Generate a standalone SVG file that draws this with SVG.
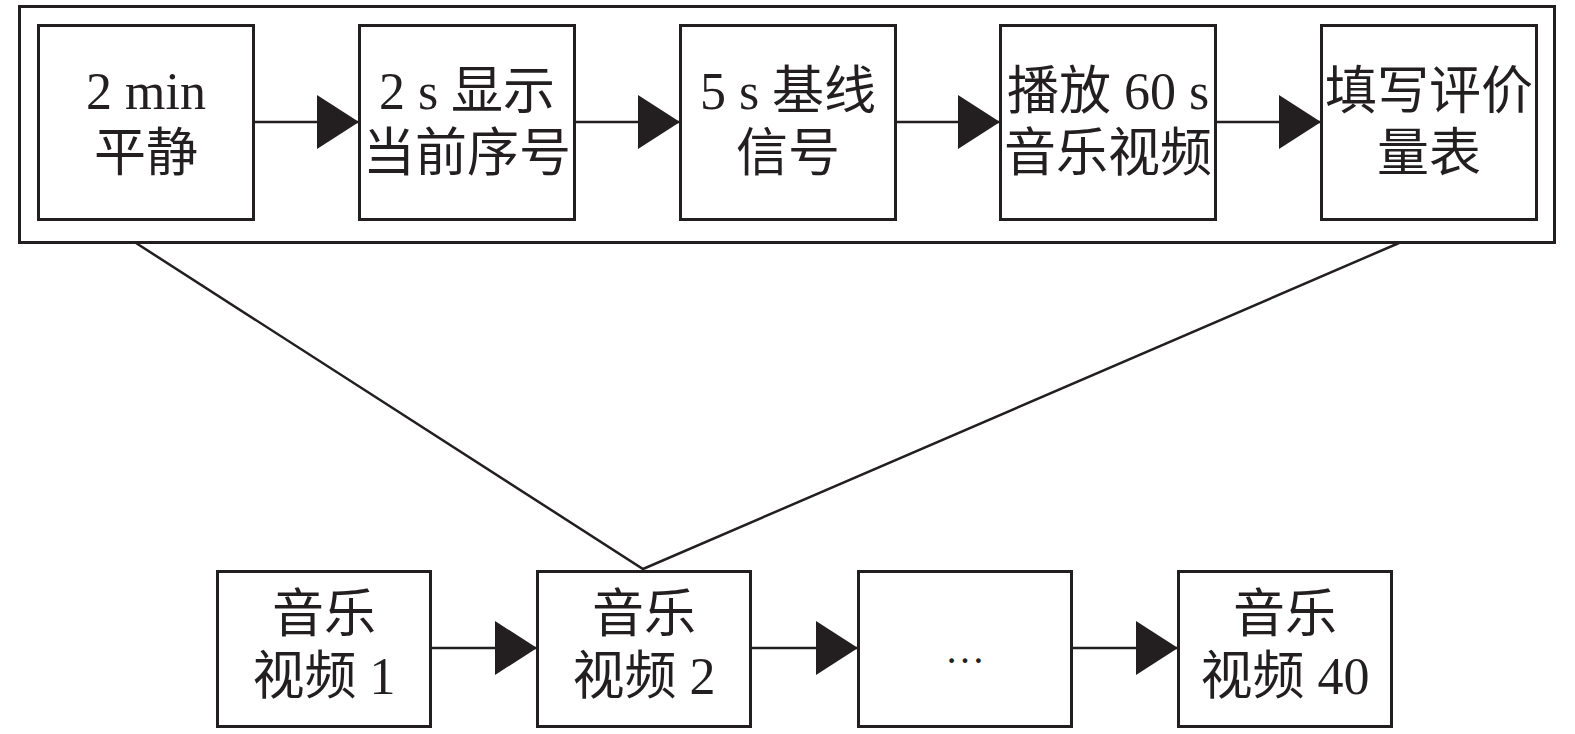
<svg xmlns="http://www.w3.org/2000/svg" width="1575" height="734" viewBox="0 0 1575 734">
<style>
.box{fill:#fff;stroke:#231f20;stroke-width:3}
.t{font-family:"Liberation Serif","Noto Sans CJK SC",serif;font-size:52px;fill:#231f20;text-anchor:middle}
.c{stroke:#231f20;stroke-width:2.5;fill:none}
</style>
<defs>
<marker id="ah" viewBox="0 0 42 54" refX="42" refY="27" markerWidth="42" markerHeight="54" markerUnits="userSpaceOnUse" orient="auto">
<path d="M0,0 L42,27 L0,54 Z" fill="#231f20"/>
</marker>
</defs>
<g id="frame"><rect class="box" x="19.5" y="6.5" width="1535" height="236"/></g>
<g id="connectors">
<line class="c" x1="253" y1="122" x2="359" y2="122" marker-end="url(#ah)"/>
<line class="c" x1="574" y1="122" x2="680" y2="122" marker-end="url(#ah)"/>
<line class="c" x1="895" y1="122" x2="1000" y2="122" marker-end="url(#ah)"/>
<line class="c" x1="1215" y1="122" x2="1321" y2="122" marker-end="url(#ah)"/>
<line class="c" x1="430" y1="648" x2="537" y2="648" marker-end="url(#ah)"/>
<line class="c" x1="750" y1="648" x2="858" y2="648" marker-end="url(#ah)"/>
<line class="c" x1="1071" y1="648" x2="1178" y2="648" marker-end="url(#ah)"/>
<polyline class="c" points="136,243 643,569 1399,243"/>
</g>
<g id="n1"><rect class="box" x="38.5" y="25.5" width="215" height="194"/><text class="t" x="146" y="109">2 min</text><text class="t" x="146" y="171">平静</text></g>
<g id="n2"><rect class="box" x="359.5" y="25.5" width="215" height="194"/><text class="t" x="467" y="109">2 s 显示</text><text class="t" x="467" y="171">当前序号</text></g>
<g id="n3"><rect class="box" x="680.5" y="25.5" width="215" height="194"/><text class="t" x="788" y="109">5 s 基线</text><text class="t" x="788" y="171">信号</text></g>
<g id="n4"><rect class="box" x="1000.5" y="25.5" width="215" height="194"/><text class="t" x="1108" y="109">播放 60 s</text><text class="t" x="1108" y="171">音乐视频</text></g>
<g id="n5"><rect class="box" x="1321.5" y="25.5" width="215" height="194"/><text class="t" x="1429" y="109">填写评价</text><text class="t" x="1429" y="171">量表</text></g>
<g id="m1"><rect class="box" x="217.5" y="571.5" width="213" height="155"/><text class="t" x="324" y="632">音乐</text><text class="t" x="324" y="694">视频 1</text></g>
<g id="m2"><rect class="box" x="537.5" y="571.5" width="213" height="155"/><text class="t" x="644" y="632">音乐</text><text class="t" x="644" y="694">视频 2</text></g>
<g id="m3"><rect class="box" x="858.5" y="571.5" width="213" height="155"/><text class="t" x="965" y="663" style="font-size:40px">…</text></g>
<g id="m4"><rect class="box" x="1178.5" y="571.5" width="213" height="155"/><text class="t" x="1285" y="632">音乐</text><text class="t" x="1285" y="694">视频 40</text></g>
</svg>
